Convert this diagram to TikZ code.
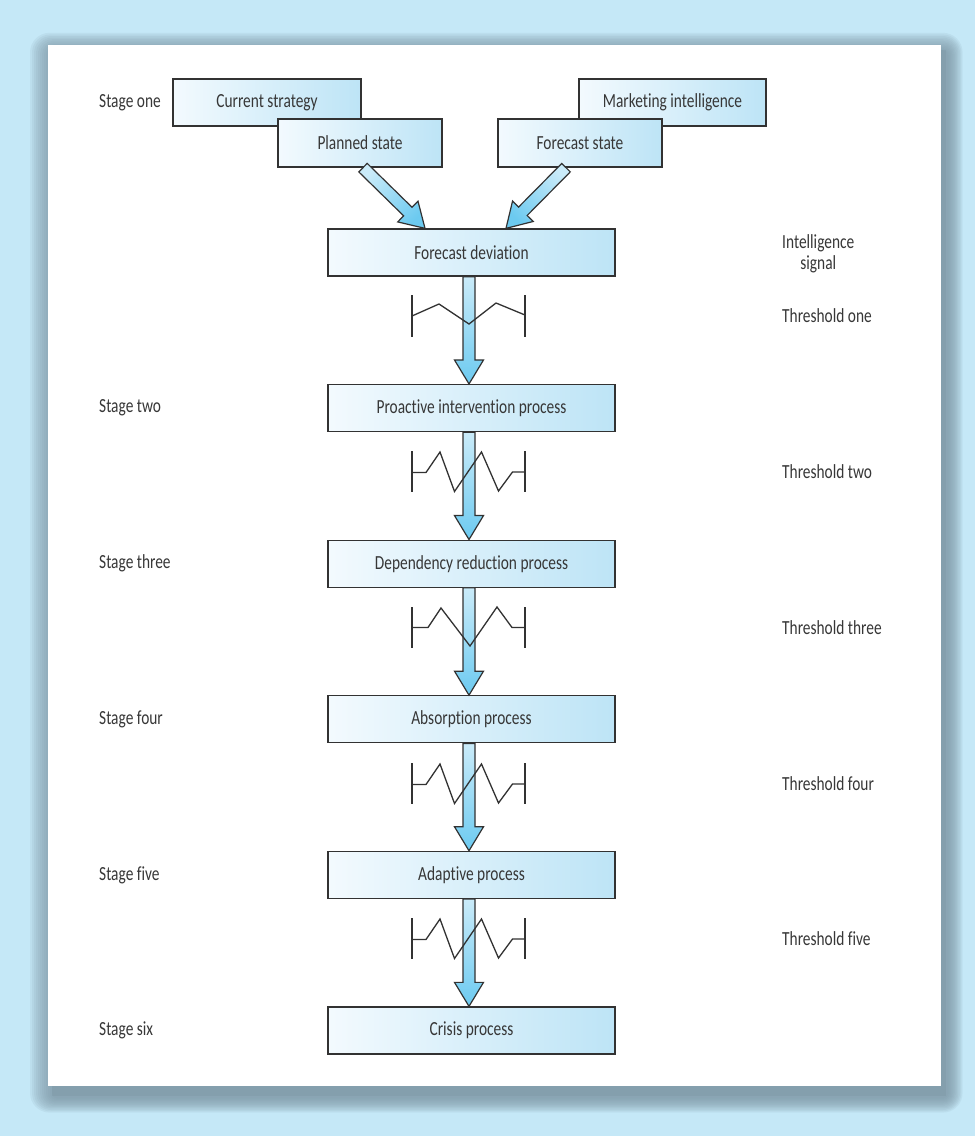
\documentclass[tikz,border=0pt]{standalone}
\usepackage{fontspec}
\setmainfont[FakeStretch=0.77, Ligatures=NoCommon]{Carlito}
\usetikzlibrary{calc}

\definecolor{bgblue}{RGB}{197,232,247}
\definecolor{shadowc}{RGB}{122,148,162}
\definecolor{boxL}{RGB}{243,250,254}
\definecolor{boxR}{RGB}{189,228,246}
\definecolor{arrL}{RGB}{202,235,249}
\definecolor{arrD}{RGB}{108,202,240}
\definecolor{ink}{RGB}{50,50,50}
\definecolor{txt}{RGB}{55,55,55}

\tikzset{
  txtfont/.style={font=\fontsize{20}{21}\selectfont, text=txt},
  procbox/.style={draw=ink, line width=1.3pt, left color=boxL, right color=boxR,
    minimum height=47pt, inner sep=0pt, txtfont},
  sidelabel/.style={anchor=west, inner sep=0pt, txtfont},
  fatarrow/.style={draw=ink, line width=1.2pt, line join=miter},
  thr/.style={draw=ink, line width=1.3pt, line join=miter},
  % threshold symbol with a gentle zigzag
  thresholdA/.pic={
    \draw[thr] (-56.5,-21) -- (-56.5,21);
    \draw[thr] (56.5,-21) -- (56.5,21);
    \draw[thr] (-56.5,0) -- (-29.5,-12) -- (0.5,8) -- (27.5,-13) -- (56.5,-1);
  },
  % threshold symbol with a steep zigzag, stubs at mid height
  thresholdB/.pic={
    \draw[thr] (-56.5,-20.5) -- (-56.5,20.5);
    \draw[thr] (56.5,-20.5) -- (56.5,20.5);
    \draw[thr] (-56.5,1) -- (-42.5,1) -- (-28.5,-19.5) -- (-14,20) -- (13,-19.5)
      -- (30,19.5) -- (44,0.5) -- (56.5,0.5);
  },
  % threshold symbol with a wide central V
  thresholdC/.pic={
    \draw[thr] (-56.5,-20.5) -- (-56.5,20.5);
    \draw[thr] (56.5,-20.5) -- (56.5,20.5);
    \draw[thr] (-56.5,0) -- (-40.5,0) -- (-27.5,-19.5) -- (1.5,18.5) -- (28.5,-20.5)
      -- (43.5,0) -- (56.5,0);
  }
}

% broad outlined arrow from #2 to the tip #3; #1 sets the shading
\newcommand\broadarrow[3][]{%
  \coordinate (ah) at ($(#3)!24pt!(#2)$);
  \path[fatarrow,#1]
    ($(#2)!6pt!90:(#3)$) -- ($(ah)!6pt!90:(#3)$) -- ($(ah)!14.5pt!90:(#3)$)
    -- (#3) -- ($(ah)!14.5pt!-90:(#3)$) -- ($(ah)!6pt!-90:(#3)$)
    -- ($(#2)!6pt!-90:(#3)$) -- cycle;
}

\begin{document}
\begin{tikzpicture}[x=1pt,y=-1pt]
  \useasboundingbox (0,0) rectangle (975,1136);
  \fill[bgblue] (0,0) rectangle (975,1136);

  % soft shadow under the panel
  \foreach \i in {1,...,12}{
    \fill[shadowc, opacity=0.11, rounded corners={4+1.3*\i}]
      ({54-2*\i},{52-1.6*\i}) rectangle ({947+1.3*\i},{1097+1.3*\i});
  }
  \fill[shadowc, opacity=0.35] (52,50) rectangle (946,1096);
  % white panel
  \fill[white] (48,45) rectangle (941,1086);

  % stage one inputs
  \node[procbox, minimum width=188pt] (cs) at (267,102.5) {Current strategy};
  \node[procbox, minimum width=187pt] (mi) at (672.5,102.5) {Marketing intelligence};
  \node[procbox, minimum width=164pt, minimum height=48pt] (ps) at (360,143) {Planned state};
  \node[procbox, minimum width=164pt, minimum height=48pt] (fs) at (580,143) {Forecast state};

  % process chain
  \node[procbox, minimum width=287pt] (fd) at (471.5,252.5) {Forecast deviation};
  \node[procbox, minimum width=287pt] (pi) at (471.5,408.1) {Proactive intervention process};
  \node[procbox, minimum width=287pt] (dr) at (471.5,563.7) {Dependency reduction process};
  \node[procbox, minimum width=287pt] (ab) at (471.5,719.3) {Absorption process};
  \node[procbox, minimum width=287pt] (ad) at (471.5,874.9) {Adaptive process};
  \node[procbox, minimum width=287pt] (cr) at (471.5,1030.5) {Crisis process};

  % arrows into the forecast deviation
  \coordinate (psout) at ($(ps.south)+(3,0)$);
  \coordinate (psin) at ($(fd.north)+(-46.5,0)$);
  \coordinate (fsout) at ($(fs.south)+(-14,0)$);
  \coordinate (fsin) at ($(fd.north)+(34.5,0)$);
  \broadarrow[top color=arrL, bottom color=arrD, shading angle=45]{psout}{psin}
  \broadarrow[top color=arrL, bottom color=arrD, shading angle=-45]{fsout}{fsin}

  % arrows down the chain
  \foreach \a/\b in {fd/pi, pi/dr, dr/ab, ab/ad, ad/cr}{
    \coordinate (dn1) at ($(\a.south)+(-2.5,0)$);
    \coordinate (dn2) at ($(\b.north)+(-2.5,0)$);
    \broadarrow[top color=arrL, bottom color=arrD]{dn1}{dn2}
  }

  % thresholds
  \coordinate (t1) at (468.5,316);
  \coordinate (t2) at (468.5,471.5);
  \coordinate (t3) at (468.5,627.5);
  \coordinate (t4) at (468.5,783.5);
  \coordinate (t5) at (468.5,938.5);
  \pic at (t1) {thresholdA};
  \pic at (t2) {thresholdB};
  \pic at (t3) {thresholdC};
  \pic at (t4) {thresholdB};
  \pic at (t5) {thresholdB};

  % stage labels
  \node[sidelabel] (s1) at (99,102.5) {Stage one};
  \node[sidelabel] (s2) at (99,408.1) {Stage two};
  \node[sidelabel] (s3) at (99,563.7) {Stage three};
  \node[sidelabel] (s4) at (99,719.3) {Stage four};
  \node[sidelabel] (s5) at (99,874.9) {Stage five};
  \node[sidelabel] (s6) at (99,1030.5) {Stage six};

  % signal and threshold labels
  \node[sidelabel, align=center] (sig) at (782,254) {Intelligence\\signal};
  \node[sidelabel] (l1) at (782,316) {Threshold one};
  \node[sidelabel] (l2) at (782,471.5) {Threshold two};
  \node[sidelabel] (l3) at (782,627.5) {Threshold three};
  \node[sidelabel] (l4) at (782,783.5) {Threshold four};
  \node[sidelabel] (l5) at (782,938.5) {Threshold five};
\end{tikzpicture}
\end{document}
